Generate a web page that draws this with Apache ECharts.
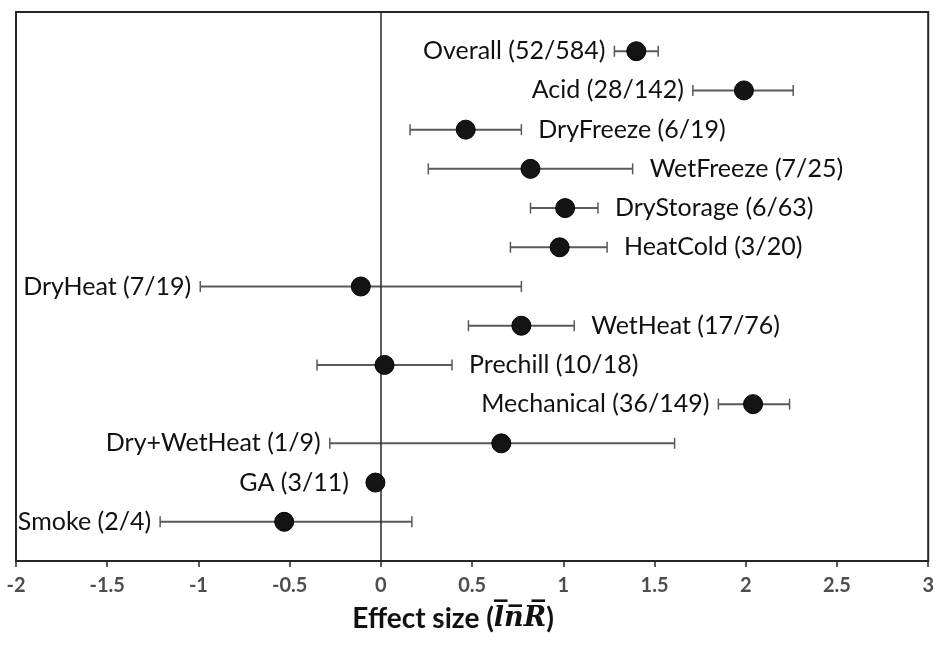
<!DOCTYPE html>
<html>
<head>
<meta charset="utf-8">
<script src="https://cdn.jsdelivr.net/npm/echarts@6/dist/echarts.min.js"></script>
<style>html,body{margin:0;padding:0;background:#fff;}#main{width:937px;height:650px;}</style>
</head>
<body>
<div id="main"></div>
<script>
const categories = ['Overall (52/584)', 'Acid (28/142)', 'DryFreeze (6/19)', 'WetFreeze (7/25)', 'DryStorage (6/63)', 'HeatCold (3/20)', 'DryHeat (7/19)', 'WetHeat (17/76)', 'Prechill (10/18)', 'Mechanical (36/149)', 'Dry+WetHeat (1/9)', 'GA (3/11)', 'Smoke (2/4)'];
const means = [1.40, 1.99, 0.465, 0.82, 1.01, 0.98, -0.11, 0.77, 0.02, 2.04, 0.66, -0.03, -0.53];
const lower = [1.28, 1.71, 0.16, 0.26, 0.82, 0.71, -0.99, 0.48, -0.35, 1.85, -0.28, -0.03, -1.21];
const upper = [1.52, 2.26, 0.77, 1.38, 1.19, 1.24, 0.77, 1.06, 0.39, 2.24, 1.61, -0.03, 0.17];
const labelSide = ['left', 'left', 'right', 'right', 'right', 'right', 'left', 'right', 'right', 'left', 'left', 'left', 'left'];
const xTicks = { min: -2, max: 3, interval: 0.5 };

const chart = echarts.init(document.getElementById('main'), null, { renderer: 'canvas' });
const symbolSize = 19;
const gapLeft = 9;
const gapRight = 17;

const errData = categories.map((c, i) => [lower[i], upper[i], i + 1, means[i]]);
const ptData = categories.map((c, i) => [means[i], i + 1]);

chart.setOption({
  animation: false,
  grid: { left: 16, right: 4, top: 12, bottom: 89, show: true, borderColor: '#262626', borderWidth: 2, backgroundColor: 'transparent' },
  xAxis: {
    type: 'value', min: xTicks.min, max: xTicks.max, interval: xTicks.interval,
    splitLine: { show: false },
    axisLine: { show: true, onZero: false, lineStyle: { color: '#262626', width: 2 } },
    axisTick: { show: true, inside: false, length: 6, lineStyle: { color: '#262626', width: 1.5 } },
    axisLabel: { margin: 15, color: '#4d4d4d', fontSize: 20, fontFamily: 'Lato', fontWeight: 'bold' },
    name: '{b|Effect size (}{m|l\u0305n\u0305R\u0305}{b|)}',
    nameLocation: 'middle', nameGap: 44,
    nameTextStyle: {
      padding: [0, 38, 0, 0],
      rich: {
        b: { fontSize: 28, fontWeight: 'bold', fontFamily: 'Lato', color: '#111' },
        m: { fontSize: 27, fontWeight: 'bold', fontStyle: 'italic', fontFamily: 'DejaVu Serif', color: '#111' }
      }
    }
  },
  yAxis: { type: 'value', min: 0, max: 14, inverse: true, show: false },
  series: [
    {
      type: 'custom',
      encode: { x: [0, 1, 3], y: 2 },
      data: errData,
      z: 2,
      renderItem: function (params, api) {
        const i = params.dataIndex;
        const row = api.value(2);
        const lo = api.coord([api.value(0), row]);
        const hi = api.coord([api.value(1), row]);
        const mid = api.coord([api.value(3), row]);
        const capH = 5.5;
        const ls = { stroke: '#595959', lineWidth: 2 };
        const r = symbolSize / 2;
        let tx, align;
        if (labelSide[i] === 'left') {
          tx = Math.min(lo[0], mid[0] - r - 8) - gapLeft; align = 'right';
        } else {
          tx = Math.max(hi[0], mid[0] + r) + gapRight; align = 'left';
        }
        const children = [];
        if (hi[0] - lo[0] > 0.5) {
          children.push({ type: 'line', shape: { x1: lo[0], y1: lo[1], x2: hi[0], y2: hi[1] }, style: ls });
          children.push({ type: 'line', shape: { x1: lo[0], y1: lo[1] - capH, x2: lo[0], y2: lo[1] + capH }, style: { stroke: '#595959', lineWidth: 1.5 } });
          children.push({ type: 'line', shape: { x1: hi[0], y1: hi[1] - capH, x2: hi[0], y2: hi[1] + capH }, style: { stroke: '#595959', lineWidth: 1.5 } });
        }
        children.push({
          type: 'text',
          style: { text: categories[i], x: tx, y: lo[1], align: align, verticalAlign: 'middle', fontSize: 25, fontFamily: 'Lato', fill: '#111' }
        });
        return { type: 'group', children: children };
      }
    },
    {
      type: 'scatter',
      data: ptData,
      symbol: 'circle',
      symbolSize: symbolSize,
      itemStyle: { color: '#141414', opacity: 1, borderColor: '#000', borderWidth: 1 },
      emphasis: { disabled: true },
      z: 5,
      markLine: {
        silent: true, symbol: 'none', label: { show: false },
        lineStyle: { color: '#262626', width: 1.5, type: 'solid' },
        data: [{ xAxis: 0 }]
      }
    }
  ]
});
</script>
</body>
</html>
